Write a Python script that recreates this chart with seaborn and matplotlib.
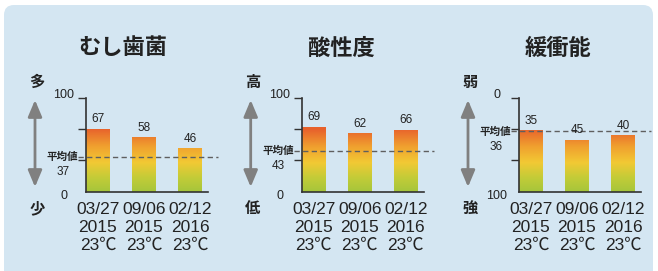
import numpy as np
import pandas as pd
import matplotlib
matplotlib.use("Agg")
import matplotlib.pyplot as plt
import seaborn as sns
from matplotlib.colors import LinearSegmentedColormap
from matplotlib.patches import FancyBboxPatch, FancyArrowPatch
from matplotlib.transforms import IdentityTransform

# ---------------- data ----------------
dates = ["03/27\n2015\n23℃", "09/06\n2015\n23℃", "02/12\n2016\n23℃"]
titles = ["むし歯菌", "酸性度", "緩衝能"]
top_words = ["多", "高", "弱"]
bottom_words = ["少", "低", "強"]
bacteria = [67, 58, 46]
acidity = [69, 62, 66]
buffer_cap = [35, 45, 40]
averages = [37, 43, 36]
avg_label = "平均値"
top_ticklabels = ["100", "100", "0"]
bottom_ticklabels = ["0", "0", "100"]
inverted = [False, False, True]
series = [bacteria, acidity, buffer_cap]

# ---------------- style ----------------
sns.set_theme(style="white")
plt.rcParams["font.family"] = ["Liberation Sans", "Noto Sans CJK JP", "DejaVu Sans"]
CJK = ["Noto Sans CJK JP", "DejaVu Sans"]
TXT = "#222222"
AXC = "#333333"

W, H = 658, 271
fig = plt.figure(figsize=(W / 100, H / 100), dpi=100)
fig.patch.set_facecolor("white")

bg = FancyBboxPatch((4, -20), 649, H - 5 + 20,
                    boxstyle="round,pad=0,rounding_size=10",
                    transform=IdentityTransform(),
                    facecolor="#d4e6f2", edgecolor="none", zorder=0)
fig.add_artist(bg)

cmap = LinearSegmentedColormap.from_list(
    "grad",
    [(0.0, "#a5c53b"), (0.15, "#c3cc38"), (0.31, "#f2c934"),
     (0.48, "#f0a02f"), (0.66, "#e8632c"), (1.0, "#e04a28")])
grad = np.linspace(0, 1, 256)[:, None]

spine_x = [86, 301.7, 519]
title_x = [123, 341, 558]
ax_top, ax_bot = 97.5, 191.7
ax_wpx = 122.4
xlim = (-0.26, 2.4)

def fx(px):
    return px / W

def fy(py):
    return 1 - py / H

for i in range(3):
    vals = series[i]
    avg = averages[i]
    if inverted[i]:
        plot_vals = [100 - v for v in vals]
        avg_plot = 100 - avg
    else:
        plot_vals = list(vals)
        avg_plot = avg
    df = pd.DataFrame({"date": dates, "value": plot_vals})

    ax = fig.add_axes([fx(spine_x[i]), fy(ax_bot), ax_wpx / W, (ax_bot - ax_top) / H])
    ax.set_facecolor("none")
    sns.barplot(data=df, x="date", y="value", ax=ax, width=0.5,
                color="#f0a02f", saturation=1, errorbar=None)
    ax.set_autoscale_on(False)
    ax.set_xlim(*xlim)
    ax.set_ylim(0, 100)

    for bar in list(ax.patches):
        im = ax.imshow(grad, cmap=cmap, aspect="auto", origin="lower",
                       extent=(0, 1, 0, 1), transform=ax.transAxes,
                       interpolation="bilinear", zorder=2)
        im.set_clip_path(bar)
        bar.set_facecolor("none")
        bar.set_edgecolor("none")

    ax.set_xlim(*xlim)
    ax.set_ylim(0, 100)

    sns.despine(ax=ax)
    for s in ["left", "bottom"]:
        ax.spines[s].set_color(AXC)
        ax.spines[s].set_linewidth(1.2)
        ax.spines[s].set_zorder(5)

    ax.set_yticks([100 / 3, 200 / 3, 100])
    ax.set_yticklabels([])
    ax.tick_params(axis="y", left=True, length=6, width=1, color=AXC, direction="out")
    ax.set_xticks([0, 1, 2])
    ax.set_xticklabels(dates, fontsize=12.5, color=TXT, linespacing=1.22)
    ax.tick_params(axis="x", bottom=False, length=0, pad=7.5)
    ax.set_xlabel("")
    ax.set_ylabel("")

    # value labels
    for j, (pv, v) in enumerate(zip(plot_vals, vals)):
        ax.annotate(str(v), xy=(j, pv), xytext=(0, 2.5), textcoords="offset points",
                    ha="center", va="bottom", fontsize=8.5, color=TXT, zorder=6)

    # average line
    yt = ax.get_yaxis_transform()
    ax.plot([-8 / ax_wpx, 1 + 10 / ax_wpx], [avg_plot, avg_plot], transform=yt,
            color="#5f5f5f", lw=1, dashes=(3.8, 2.4), clip_on=False, zorder=4)
    ax.text(-8 / ax_wpx, avg_plot, avg_label, transform=yt, ha="right", va="center",
            fontsize=7.6, fontweight="bold", family=CJK, color=TXT)
    ax.annotate(str(avg), xy=(-23 / ax_wpx, avg_plot), xycoords=yt,
                xytext=(0, -11), textcoords="offset points",
                ha="center", va="center", fontsize=8.5, color=TXT)

    # axis end labels
    fig.text(fx(spine_x[i] - 22), fy(ax_top - 2), top_ticklabels[i],
             ha="center", va="center", fontsize=9, color=TXT)
    fig.text(fx(spine_x[i] - 22), fy(ax_bot + 4.5), bottom_ticklabels[i],
             ha="center", va="center", fontsize=9, color=TXT)

    # title
    fig.text(fx(title_x[i]), fy(48), titles[i], ha="center", va="center",
             fontsize=16, fontweight="bold", family=CJK, color=TXT)

    # double arrow
    arrow_x = spine_x[i] - 51
    arr = FancyArrowPatch((arrow_x, H - 100), (arrow_x, H - 187),
                          arrowstyle="<|-|>,head_length=10,head_width=4.2",
                          mutation_scale=1, lw=2, color="#808080",
                          shrinkA=0, shrinkB=0, transform=IdentityTransform())
    fig.add_artist(arr)
    fig.text(fx(arrow_x + 2), fy(82), top_words[i], ha="center", va="center",
             fontsize=11, fontweight="bold", family=CJK, color=TXT)
    fig.text(fx(arrow_x + 2), fy(208), bottom_words[i], ha="center", va="center",
             fontsize=11, fontweight="bold", family=CJK, color=TXT)

fig.savefig("out.png", dpi=100)
